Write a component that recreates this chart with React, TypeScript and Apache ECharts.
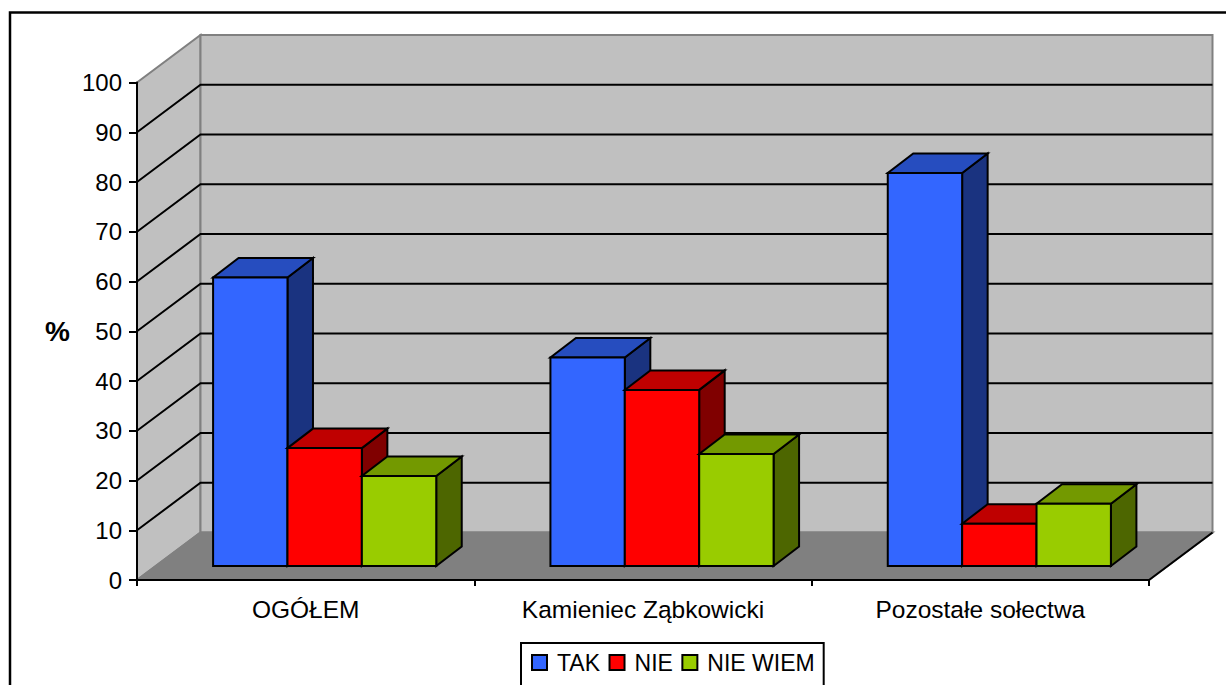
import React, { useEffect, useRef } from "react";
import * as echarts from "echarts";

const categories = ["OGÓŁEM", "Kamieniec Ząbkowicki", "Pozostałe sołectwa"];
const takValues = [58, 41.9, 79];
const nieValues = [23.7, 35.4, 8.5];
const nieWiemValues = [18.1, 22.5, 12.5];
const gridTicks = [10, 20, 30, 40, 50, 60, 70, 80, 90];
const seriesNames = ["TAK", "NIE", "NIE WIEM"];

const FONT = "Liberation Sans";
const WALL_DX = 63.5;
const WALL_DY = -47.5;
const BAR_DX = 19;
const BAR_DY = -14;
const DEPTH_DX = 25.5;
const DEPTH_DY = -19.5;
const BAR_FRACTION = 0.2205;

const palette = [
  { front: "#3366FF", top: "#264DBF", side: "#1A3380" },
  { front: "#FF0000", top: "#BF0000", side: "#800000" },
  { front: "#99CC00", top: "#739900", side: "#4D6600" },
];

const poly = (points: number[][], fill: string, stroke = "#000", lineWidth = 2) => ({
  type: "polygon",
  shape: { points },
  style: { fill, stroke, lineWidth, lineJoin: "miter" },
});
const line = (points: number[][], stroke: string, lineWidth = 2) => ({
  type: "polyline",
  shape: { points },
  style: { fill: "none", stroke, lineWidth },
});

const frame = (api: any) => {
  const band = api.size([1, 0])[0];
  const bottom = api.coord([0, 0])[1];
  const top = api.coord([0, 100])[1];
  const left = api.coord([0, 0])[0] - band / 2;
  const right = api.coord([categories.length - 1, 0])[0] + band / 2;
  return { band, bottom, top, left, right };
};

const renderWalls = (_: any, api: any) => {
  const { bottom: b, top: t, left: l, right: r } = frame(api);
  const gray = "#808080";
  const bl = l + WALL_DX;
  const br = r + WALL_DX;
  const bt = t + WALL_DY;
  const bb = b + WALL_DY;
  return {
    type: "group",
    children: [
      poly([[l, b], [bl, bb], [bl, bt], [l, t]], "#C0C0C0", gray, 2),
      poly([[bl, bb], [br, bb], [br, bt], [bl, bt]], "#C0C0C0", gray, 2),
      poly([[l, b], [r, b], [br, bb], [bl, bb]], "#808080", gray, 2),
      line([[r, b], [br, bb]], "#000", 2),
    ],
  };
};

const renderGridLine = (_: any, api: any) => {
  const { left: l, right: r } = frame(api);
  const y = api.coord([0, api.value(1)])[1];
  return line(
    [
      [l, y],
      [l + WALL_DX, y + WALL_DY],
      [r + WALL_DX, y + WALL_DY],
    ],
    "#000",
    2
  );
};

const makeBarRenderer = (index: number) => (_: any, api: any) => {
  const cat = api.value(0);
  const base = api.coord([cat, 0]);
  const head = api.coord([cat, api.value(1)]);
  const w = api.size([1, 0])[0] * BAR_FRACTION;
  const x0 = base[0] + BAR_DX - 1.5 * w + index * w;
  const x1 = x0 + w;
  const yb = base[1] + BAR_DY;
  const yt = head[1] + BAR_DY;
  const c = palette[index];
  return {
    type: "group",
    children: [
      poly([[x1, yb], [x1 + DEPTH_DX, yb + DEPTH_DY], [x1 + DEPTH_DX, yt + DEPTH_DY], [x1, yt]], c.side),
      poly([[x0, yt], [x1, yt], [x1 + DEPTH_DX, yt + DEPTH_DY], [x0 + DEPTH_DX, yt + DEPTH_DY]], c.top),
      poly([[x0, yb], [x1, yb], [x1, yt], [x0, yt]], c.front),
    ],
  };
};

const barSeries = [takValues, nieValues, nieWiemValues].map((values, i) => ({
  type: "custom",
  name: seriesNames[i],
  coordinateSystem: "cartesian2d",
  z: 4,
  silent: true,
  itemStyle: { color: palette[i].front, borderColor: "#000", borderWidth: 2 },
  encode: { x: 0, y: 1 },
  data: values.map((v, c) => [c, v]),
  renderItem: makeBarRenderer(i),
}));

export default function App() {
  const ref = useRef<HTMLDivElement>(null);
  useEffect(() => {
    const chart = echarts.init(ref.current!, null, { renderer: "svg" });
    chart.setOption({
      animation: false,
      backgroundColor: "#fff",
      textStyle: { fontFamily: FONT, color: "#000" },
      grid: { left: 137, top: 82.5, width: 1012, height: 497.5 },
      graphic: [
        {
          type: "rect",
          silent: true,
          z: 0,
          shape: { x: 10, y: 12.5, width: 1400, height: 900 },
          style: { fill: "none", stroke: "#000", lineWidth: 2.5 },
        },
      ],
      legend: {
        left: 521,
        top: 643,
        orient: "horizontal",
        data: seriesNames.map((name) => ({
          name,
          icon: "rect",
          itemStyle: { borderColor: "#000", borderWidth: 2 },
        })),
        itemWidth: 15,
        itemHeight: 15,
        itemGap: 8.5,
        padding: [8, 9, 20, 10],
        borderColor: "#000",
        borderWidth: 2,
        backgroundColor: "#fff",
        selectedMode: false,
        textStyle: { fontFamily: FONT, fontSize: 23, color: "#000", padding: [0, 0, 0, 5] },
      },
      xAxis: {
        type: "category",
        data: categories,
        z: 10,
        axisLine: { lineStyle: { color: "#000", width: 2 } },
        axisTick: { show: true, alignWithLabel: false, length: 6, lineStyle: { color: "#000", width: 2 } },
        axisLabel: { interval: 0, margin: 17, fontFamily: FONT, fontSize: 24.5, color: "#000" },
      },
      yAxis: {
        type: "value",
        min: 0,
        max: 100,
        interval: 10,
        z: 10,
        name: "%",
        nameLocation: "middle",
        nameRotate: 0,
        nameGap: 67,
        nameTextStyle: { fontFamily: FONT, fontSize: 28, fontWeight: "bold", color: "#000" },
        splitLine: { show: false },
        axisLine: { show: true, lineStyle: { color: "#000", width: 2 } },
        axisTick: { show: true, length: 8, lineStyle: { color: "#000", width: 2 } },
        axisLabel: { margin: 15, fontFamily: FONT, fontSize: 24, color: "#000" },
      },
      series: [
        {
          type: "custom",
          coordinateSystem: "cartesian2d",
          z: 1,
          silent: true,
          encode: { x: 0, y: 1 },
          data: [[0, 0]],
          renderItem: renderWalls,
        },
        {
          type: "custom",
          coordinateSystem: "cartesian2d",
          z: 2,
          silent: true,
          encode: { x: 0, y: 1 },
          data: gridTicks.map((t) => [0, t]),
          renderItem: renderGridLine,
        },
        ...barSeries,
      ],
    });
    return () => chart.dispose();
  }, []);
  return (
    <div
      ref={ref}
      style={{ position: "fixed", left: 0, top: 0, width: 1226, height: 685 }}
    />
  );
}
